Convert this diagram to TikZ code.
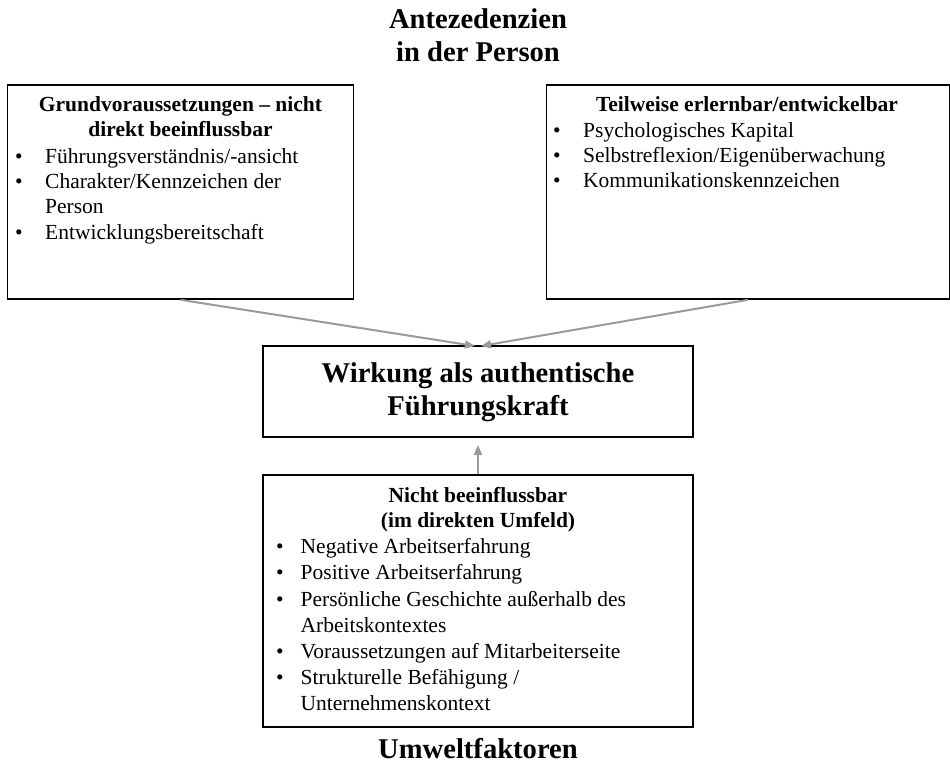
\documentclass[tikz,border=0pt]{standalone}
\usepackage{fontspec}
\setmainfont{Liberation Serif}
\usetikzlibrary{arrows.meta}
\definecolor{arrowgray}{HTML}{9A9A9A}
\tikzset{
  box/.style={draw=black, line width=1.6pt, rectangle, inner sep=0pt},
  body/.style={inner sep=0pt, anchor=base west, font=\fontsize{21.5}{25.5}\selectfont},
  bodyc/.style={inner sep=0pt, anchor=base, font=\fontsize{21.5}{25.5}\selectfont\bfseries},
  big/.style={inner sep=0pt, anchor=base, font=\fontsize{28.6}{33}\selectfont\bfseries},
  bul/.style={inner sep=0pt, anchor=base, font=\fontsize{21.5}{25.5}\selectfont},
  arr/.style={draw=arrowgray, line width=2pt, -{Triangle[length=10pt,width=8pt]}}
}
\begin{document}
\begin{tikzpicture}[x=1pt,y=-1pt]
\useasboundingbox (0,0) rectangle (950,768);
% title
\node[big] (t1) at (478,29) {Antezedenzien};
\node[big] (t2) at (478,62) {in der Person};
% boxes
\node[box, minimum width=346, minimum height=214] (L) at (180.5,192) {};
\node[box, minimum width=403, minimum height=214] (R) at (748,192) {};
\node[box, minimum width=430, minimum height=91] (C) at (478,391.5) {};
\node[box, minimum width=430, minimum height=252] (B) at (478,601) {};
% left box text
\node[bodyc] (lh1) at (180.5,111) {Grundvoraussetzungen -- nicht};
\node[bodyc] (lh2) at (180.5,136) {direkt beeinflussbar};
\node[bul] (lb1) at (19,163) {•};
\node[body] (l1) at (45,163) {Führungsverständnis/-ansicht};
\node[bul] (lb2) at (19,188) {•};
\node[body] (l2) at (45,188) {Charakter/Kennzeichen der};
\node[body] (l2b) at (45,213.5) {Person};
\node[bul] (lb3) at (19,239) {•};
\node[body] (l3) at (45,239) {Entwicklungsbereitschaft};
% right box text
\node[bodyc] (rh1) at (747,111) {Teilweise erlernbar/entwickelbar};
\node[bul] (rb1) at (557,137) {•};
\node[body] (r1) at (583,137) {Psychologisches Kapital};
\node[bul] (rb2) at (557,162) {•};
\node[body] (r2) at (583,162) {Selbstreflexion/Eigenüberwachung};
\node[bul] (rb3) at (557,187) {•};
\node[body] (r3) at (583,187) {Kommunikationskennzeichen};
% center box text
\node[big] (c1) at (478,382) {Wirkung als authentische};
\node[big] (c2) at (478,415) {Führungskraft};
% bottom box text
\node[bodyc] (bh1) at (478,502) {Nicht beeinflussbar};
\node[bodyc] (bh2) at (478,527) {(im direkten Umfeld)};
\node[bul] (bb1) at (280,553) {•};
\node[body] (b1) at (300.5,553) {Negative Arbeitserfahrung};
\node[bul] (bb2) at (280,579) {•};
\node[body] (b2) at (300.5,579) {Positive Arbeitserfahrung};
\node[bul] (bb3) at (280,606) {•};
\node[body] (b3) at (300.5,606) {Persönliche Geschichte außerhalb des};
\node[body] (b3b) at (300.5,632) {Arbeitskontextes};
\node[bul] (bb4) at (280,658) {•};
\node[body] (b4) at (300.5,658) {Voraussetzungen auf Mitarbeiterseite};
\node[bul] (bb5) at (280,684) {•};
\node[body] (b5) at (300.5,684) {Strukturelle Befähigung /};
\node[body] (b5b) at (300.5,710) {Unternehmenskontext};
% bottom title
\node[big] (u) at (478,758) {Umweltfaktoren};
% arrows
\coordinate (cl) at (475,346);
\coordinate (cr) at (481,346);
\coordinate (cb) at (478,445);
\draw[arr] (L.south) -- (cl);
\draw[arr] (R.south) -- (cr);
\draw[arr] (B.north) -- (cb);
\end{tikzpicture}
\end{document}
